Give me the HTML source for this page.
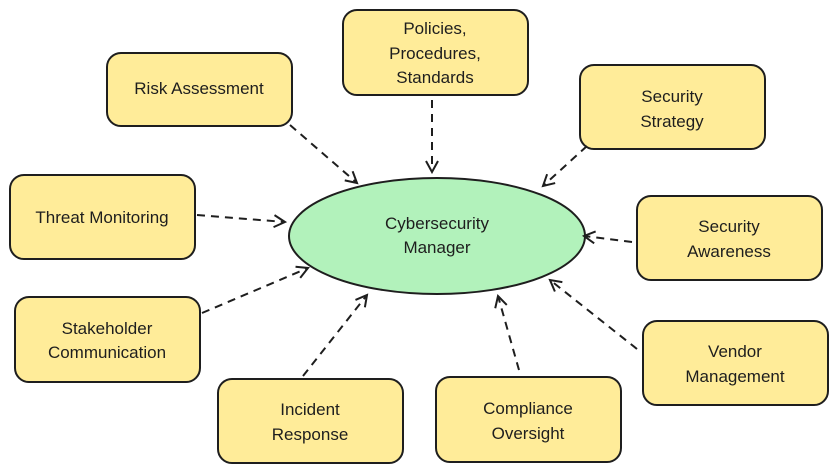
<!DOCTYPE html>
<html><head><meta charset="utf-8"><style>
html,body{margin:0;padding:0;background:#fff;}
svg{display:block;}
text{font-family:"Liberation Sans",sans-serif;font-size:17px;fill:#1e1e1e;text-anchor:middle;}
</style></head><body>
<svg width="838" height="474" viewBox="0 0 838 474" xmlns="http://www.w3.org/2000/svg">
<defs>
<marker id="a" markerWidth="14" markerHeight="14" refX="12" refY="7" orient="auto" markerUnits="userSpaceOnUse">
<path d="M1,1 L12,7 L1,13" fill="none" stroke="#1e1e1e" stroke-width="2"/>
</marker>
</defs>
<g fill="#ffec99" stroke="#1e1e1e" stroke-width="2">
<rect x="107" y="53" width="185" height="73" rx="14"/>
<rect x="343" y="10" width="185" height="85" rx="14"/>
<rect x="580" y="65" width="185" height="84" rx="14"/>
<rect x="10" y="175" width="185" height="84" rx="14"/>
<rect x="637" y="196" width="185" height="84" rx="14"/>
<rect x="15" y="297" width="185" height="85" rx="14"/>
<rect x="643" y="321" width="185" height="84" rx="14"/>
<rect x="218" y="379" width="185" height="84" rx="14"/>
<rect x="436" y="377" width="185" height="85" rx="14"/>
</g>
<ellipse cx="437" cy="236" rx="148" ry="58" fill="#b2f2bb" stroke="#1e1e1e" stroke-width="2"/>
<g stroke="#1e1e1e" stroke-width="2" stroke-dasharray="8,6" fill="none" marker-end="url(#a)">
<line x1="290" y1="125" x2="357" y2="183"/>
<line x1="432" y1="100" x2="432" y2="172"/>
<line x1="587" y1="146" x2="543" y2="186"/>
<line x1="197" y1="215" x2="285" y2="222"/>
<line x1="632" y1="242" x2="584" y2="236"/>
<line x1="202" y1="313" x2="308" y2="268"/>
<line x1="637" y1="349" x2="550" y2="280"/>
<line x1="303" y1="376" x2="367" y2="295"/>
<line x1="519" y1="370" x2="498" y2="296"/>
</g>
<text x="199" y="94">Risk Assessment</text>
<text x="435" y="34">Policies,</text>
<text x="435" y="59">Procedures,</text>
<text x="435" y="83">Standards</text>
<text x="672" y="102">Security</text>
<text x="672" y="127">Strategy</text>
<text x="102" y="223">Threat Monitoring</text>
<text x="729" y="232">Security</text>
<text x="729" y="257">Awareness</text>
<text x="107" y="334">Stakeholder</text>
<text x="107" y="358">Communication</text>
<text x="735" y="357">Vendor</text>
<text x="735" y="382">Management</text>
<text x="310" y="415">Incident</text>
<text x="310" y="440">Response</text>
<text x="528" y="414">Compliance</text>
<text x="528" y="439">Oversight</text>
<text x="437" y="229">Cybersecurity</text>
<text x="437" y="253">Manager</text>
</svg>
</body></html>
